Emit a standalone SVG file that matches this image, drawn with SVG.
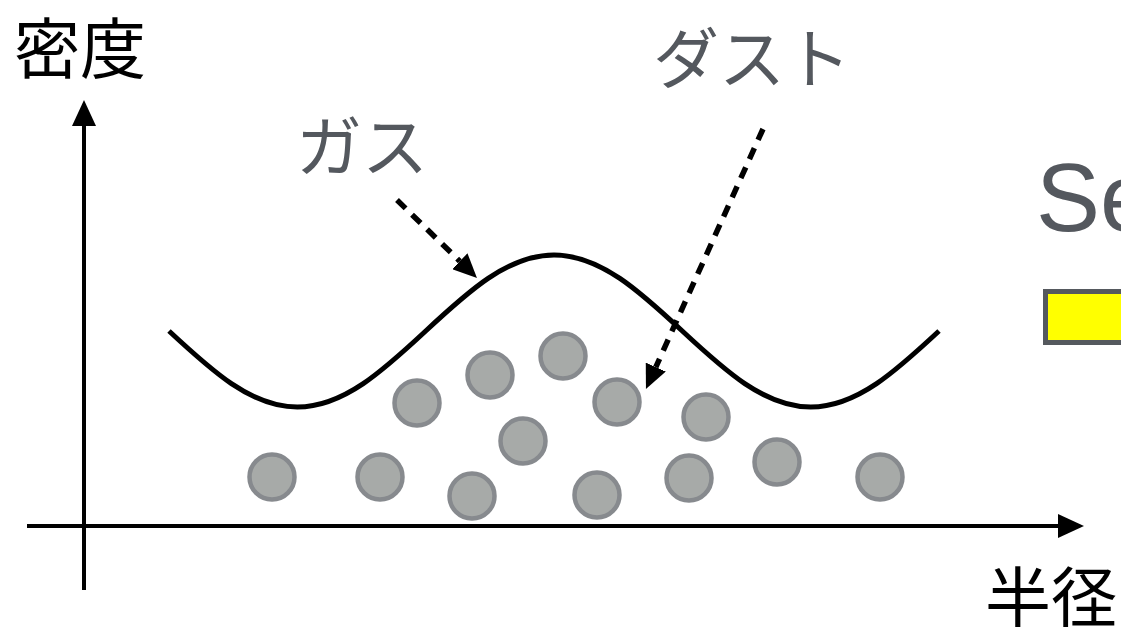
<svg xmlns="http://www.w3.org/2000/svg" width="1121" height="627" viewBox="0 0 1121 627">
<style>
.jp{font-family:"Noto Sans CJK JP","Noto Sans",sans-serif;font-size:66px}
.blk{fill:#000}
.gry{fill:#54585e}
.dust{fill:#a7aaa8;stroke:#878a8e;stroke-width:4.5}
.axis{stroke:#000;stroke-width:4;fill:none}
.dash{stroke:#000;stroke-width:5.5;fill:none;stroke-dasharray:12 9}
</style>
<defs>
<marker id="ah" viewBox="0 0 24 22" refX="0" refY="11" markerWidth="24" markerHeight="22" markerUnits="userSpaceOnUse" orient="auto">
<path d="M0,0 L24,11 L0,22 z" fill="#000"/>
</marker>
<marker id="ax" viewBox="0 0 26 24" refX="0" refY="12" markerWidth="26" markerHeight="24" markerUnits="userSpaceOnUse" orient="auto">
<path d="M0,0 L26,12 L0,24 z" fill="#000"/>
</marker>
</defs>
<rect width="1121" height="627" fill="#fff"/>
<g id="axes">
<line class="axis" x1="84" y1="590" x2="84" y2="126" marker-end="url(#ax)"/>
<line class="axis" x1="27" y1="526" x2="1058" y2="526" marker-end="url(#ax)"/>
</g>
<g id="labels">
<text class="jp blk" x="14" y="73" font-size="68">密度</text>
<text class="jp blk" x="985" y="622" font-size="68">半径</text>
<text class="jp gry" x="296" y="171">ガス</text>
<text class="jp gry" x="653" y="83" font-size="67">ダスト</text>
<text class="gry" x="1036" y="231" font-family="Liberation Sans, Arial, sans-serif" font-size="96">Se</text>
</g>
<g id="legend">
<rect x="1045.5" y="291.5" width="100" height="51" fill="#ffff00" stroke="#55595e" stroke-width="5"/>
</g>
<g id="gas">
<path d="M169,331 C210.8,369.9 250.9,407 297.3,407 C343.7,407 383.9,369.9 425.7,331 C467.5,292.1 507.6,255 554,255 C600.4,255 640.5,292.1 682.3,331 C724.1,369.9 764.3,407 810.7,407 C857.1,407 897.2,369.9 939,331" fill="none" stroke="#000" stroke-width="5"/>
</g>
<g id="dust">
<circle class="dust" cx="272" cy="477" r="22.5"/>
<circle class="dust" cx="380" cy="477" r="22.5"/>
<circle class="dust" cx="417" cy="403" r="22.5"/>
<circle class="dust" cx="490" cy="375" r="22.5"/>
<circle class="dust" cx="563" cy="356" r="22.5"/>
<circle class="dust" cx="523" cy="441" r="22.5"/>
<circle class="dust" cx="472" cy="496" r="22.5"/>
<circle class="dust" cx="597" cy="495" r="22.5"/>
<circle class="dust" cx="617" cy="402" r="22.5"/>
<circle class="dust" cx="706" cy="417" r="22.5"/>
<circle class="dust" cx="689" cy="478" r="22.5"/>
<circle class="dust" cx="777" cy="462" r="22.5"/>
<circle class="dust" cx="880" cy="477" r="22.5"/>
</g>
<g id="connectors">
<line class="dash" x1="397" y1="200" x2="459.8" y2="261.2" marker-end="url(#ah)"/>
<line class="dash" x1="763" y1="129" x2="655.8" y2="367.1" marker-end="url(#ah)"/>
</g>
</svg>
